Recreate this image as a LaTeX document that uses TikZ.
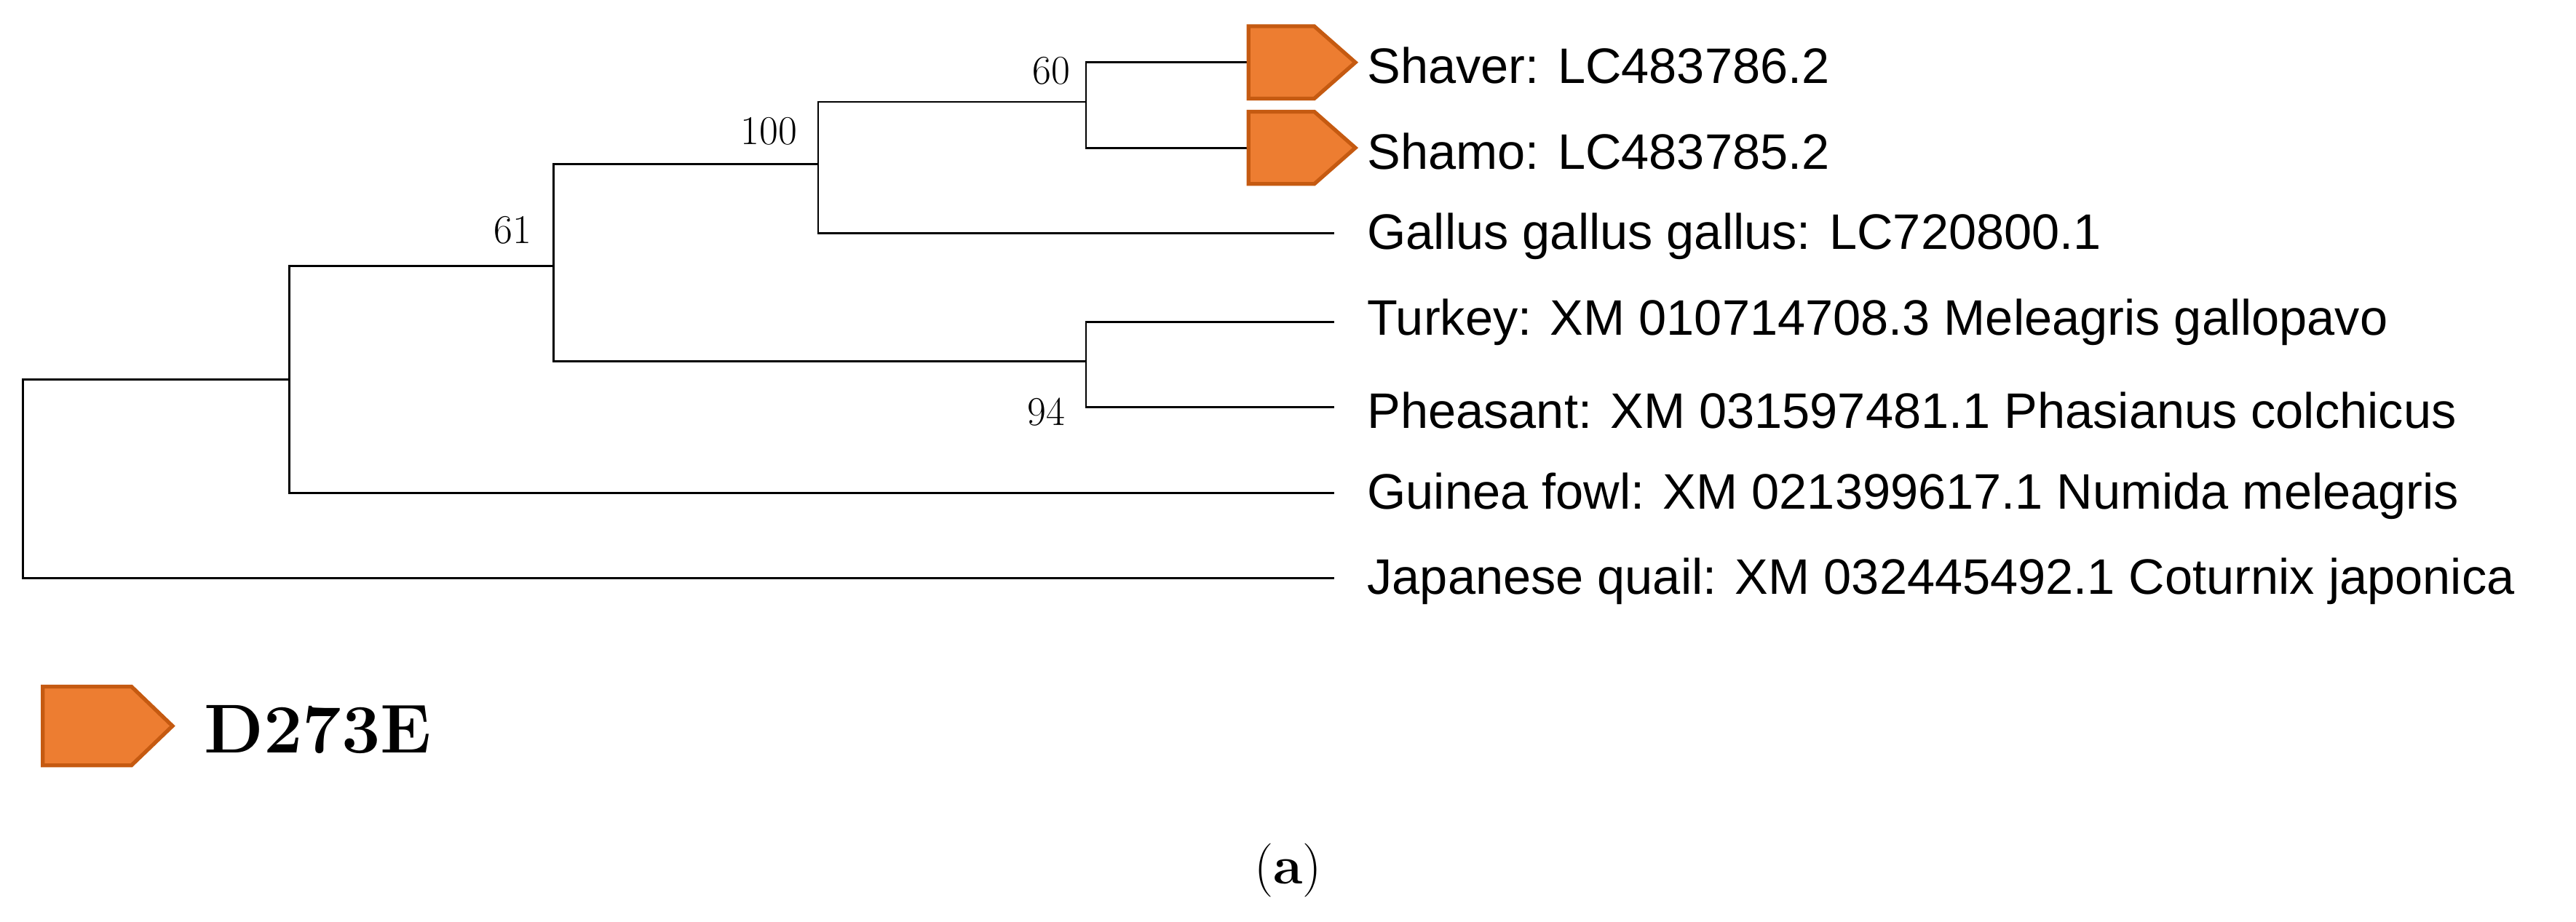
\documentclass[tikz,border=0pt]{standalone}
\usepackage{fontspec}
\newfontfamily\sans{Liberation Sans}
\begin{document}
\begin{tikzpicture}[x=0.2257mm,y=-0.2257mm,
 br/.style={line width=0.8pt,black},
 lab/.style={font=\sans\fontsize{19.5}{22}\selectfont,anchor=west,inner sep=0},
 bs/.style={font=\fontsize{16}{18}\selectfont,inner sep=0}]
\definecolor{og}{HTML}{ED7D31}\definecolor{ogd}{HTML}{C55A11}
\useasboundingbox (0,0) rectangle (1568,561);
\coordinate (r) at (14,292);
\coordinate (n1) at (176,231);
\coordinate (n2) at (337,162);
\coordinate (n3) at (498,100);
\coordinate (n4) at (661,62);
\coordinate (n5) at (661,220);
\coordinate (lsv) at (760,38);
\coordinate (lsm) at (760,90);
\node[lab] (tsv) at (832,40) {Shaver: LC483786.2};
\node[lab] (tsm) at (832,92) {Shamo: LC483785.2};
\node[lab] (tg) at (832,144) {Gallus gallus gallus: LC720800.1};
\node[lab] (tt) at (832,196) {Turkey: XM 010714708.3 Meleagris gallopavo};
\node[lab] (tp) at (832,250) {Pheasant: XM 031597481.1 Phasianus colchicus};
\node[lab] (tf) at (832,302) {Guinea fowl: XM 021399617.1 Numida meleagris};
\node[lab] (tq) at (832,354) {Japanese quail: XM 032445492.1 Coturnix japonica};
\draw[br] (812,352) -| (14,231) -- (n1);
\draw[br] (812,300) -| (n1) |- (n2);
\draw[br] (n2) -- (337,100) -- (n3);
\draw[br] (n2) -- (337,220) -- (n5);
\draw[br] (812,142) -| (n3) |- (n4);
\draw[br] (lsv) -| (n4) |- (lsm);
\draw[br] (812,196) -| (n5) |- (812,248);
\node[bs] (b60) at (640,43) {60};
\node[bs] (b100) at (468,80) {100};
\node[bs] (b61) at (312,140) {61};
\node[bs] (b94) at (637,251) {94};
\draw[fill=og,draw=ogd,line width=1.5pt] (760,16) -- (800,16) -- (825,38) -- (800,60) -- (760,60) -- cycle;
\draw[fill=og,draw=ogd,line width=1.5pt] (760,68) -- (800,68) -- (825,90) -- (800,112) -- (760,112) -- cycle;
\draw[fill=og,draw=ogd,line width=1.5pt] (26,418) -- (80,418) -- (105,442) -- (80,466) -- (26,466) -- cycle;
\node[font=\bfseries\fontsize{27}{30}\selectfont,anchor=west,inner sep=0] (leg) at (124,444) {D273E};
\node[font=\fontsize{21}{24}\selectfont,inner sep=0] (cap) at (784,530) {(\textbf{a})};
\end{tikzpicture}
\end{document}
